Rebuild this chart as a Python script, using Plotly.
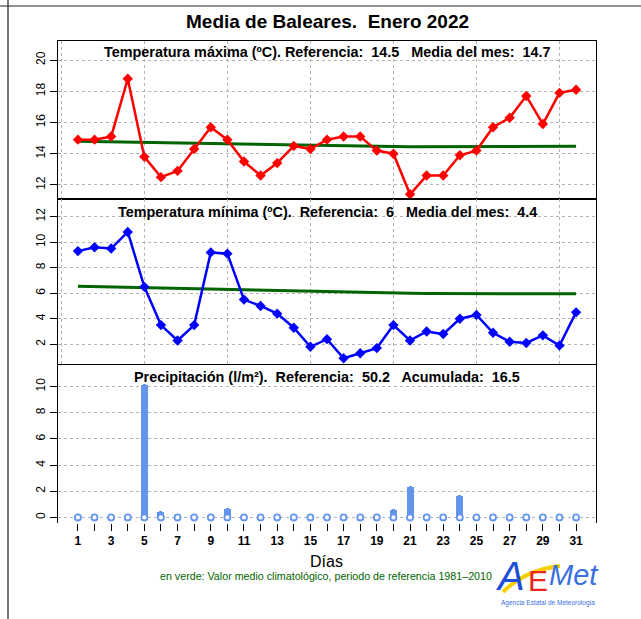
import plotly.graph_objects as go

days = list(range(1, 32))
tmax = [14.9, 14.9, 15.1, 18.8, 13.8, 12.5, 12.9, 14.3, 15.7, 14.9,
        13.5, 12.6, 13.4, 14.5, 14.3, 14.9, 15.1, 15.1, 14.2, 14.0,
        11.4, 12.6, 12.6, 13.9, 14.2, 15.7, 16.3, 17.7, 15.9, 17.9, 18.1]
tmax_clim = [14.80, 14.78, 14.76, 14.74, 14.72, 14.70, 14.68, 14.66, 14.64, 14.62,
             14.60, 14.58, 14.56, 14.54, 14.52, 14.50, 14.49, 14.48, 14.47, 14.46,
             14.45, 14.45, 14.45, 14.45, 14.45, 14.46, 14.46, 14.47, 14.47, 14.48, 14.48]
tmin = [9.3, 9.6, 9.5, 10.8, 6.5, 3.5, 2.3, 3.5, 9.2, 9.1,
        5.5, 5.0, 4.4, 3.3, 1.8, 2.4, 0.9, 1.3, 1.7, 3.5,
        2.3, 3.0, 2.8, 4.0, 4.3, 2.9, 2.2, 2.1, 2.7, 1.9, 4.5]
tmin_clim = [6.55, 6.52, 6.49, 6.46, 6.43, 6.40, 6.37, 6.34, 6.31, 6.28,
             6.25, 6.22, 6.19, 6.16, 6.13, 6.10, 6.07, 6.04, 6.02, 6.00,
             5.99, 5.98, 5.97, 5.96, 5.96, 5.95, 5.95, 5.95, 5.95, 5.95, 5.95]
prec = [0.1, 0.0, 0.0, 0.0, 10.2, 0.5, 0.0, 0.0, 0.0, 0.7,
        0.0, 0.0, 0.0, 0.0, 0.0, 0.0, 0.0, 0.0, 0.0, 0.6,
        2.4, 0.0, 0.1, 1.7, 0.0, 0.0, 0.1, 0.1, 0.0, 0.0, 0.0]
prec_zero = [0.0] * 31

title = "Media de Baleares.\u00a0 Enero 2022"
sub_max = "Temperatura máxima (ºC). Referencia:\u00a0 14.5\u00a0\u00a0 Media del mes:\u00a0 14.7"
sub_min = "Temperatura mínima (ºC).\u00a0 Referencia:\u00a0 6\u00a0\u00a0 Media del mes:\u00a0 4.4"
sub_pre = "Precipitación (l/m²).\u00a0 Referencia:\u00a0 50.2\u00a0\u00a0 Acumulada:\u00a0 16.5"
xlabel = "Días"
footer = "en verde: Valor medio climatológico, periodo de referencia 1981\u20132010"

xgrid = [0, 5, 10, 15, 20, 25, 30]
xticktext = [str(d) if d % 2 == 1 else "" for d in days]

W, H = 641, 619
L, R, T, B = 58, 596, 41, 523


def px(x):
    return (x - L) / (R - L)


def py(y):
    return (B - y) / (B - T)


FONT = "Liberation Sans, Arial, Helvetica, sans-serif"
RED = "#FF0000"
BLUE = "#0000FF"
GREEN = "#006400"
PBLUE = "#6495ED"
GRID = "#B4B4B4"

fig = go.Figure()

# top panel
fig.add_trace(go.Scatter(x=days, y=tmax_clim, mode="lines", line=dict(color=GREEN, width=3),
                         xaxis="x", yaxis="y"))
fig.add_trace(go.Scatter(x=days, y=tmax, mode="lines+markers", line=dict(color=RED, width=2.5),
                         marker=dict(symbol="diamond", size=8, color=RED),
                         xaxis="x", yaxis="y"))
# middle panel
fig.add_trace(go.Scatter(x=days, y=tmin_clim, mode="lines", line=dict(color=GREEN, width=3),
                         xaxis="x2", yaxis="y2"))
fig.add_trace(go.Scatter(x=days, y=tmin, mode="lines+markers", line=dict(color=BLUE, width=2.5),
                         marker=dict(symbol="diamond", size=8, color=BLUE),
                         xaxis="x2", yaxis="y2"))
# bottom panel
fig.add_trace(go.Bar(x=days, y=prec, width=0.42, marker=dict(color=PBLUE, line=dict(width=0), cornerradius=4),
                     xaxis="x4", yaxis="y3"))
fig.add_trace(go.Scatter(x=days, y=prec_zero, mode="markers",
                         marker=dict(symbol="circle", size=6, color="white",
                                     line=dict(color=PBLUE, width=1.8)),
                         xaxis="x4", yaxis="y3"))

xr = [-0.2, 32.2]
d_top = [py(199.3), 1.0]
d_mid = [py(364.3), py(199.3)]
d_bot = [0.0, py(364.3)]

common_x = dict(range=xr, showline=True, mirror=True, linecolor="black", linewidth=1,
                tickmode="array", tickvals=xgrid, showticklabels=False, ticks="",
                showgrid=True, gridcolor=GRID, griddash="dot", gridwidth=1, zeroline=False,
                fixedrange=True)
common_y = dict(showline=True, mirror=True, linecolor="black", linewidth=1,
                ticks="outside", ticklen=7, tickcolor="black", tickangle=-90,
                tickfont=dict(family=FONT, size=12, color="black"),
                showgrid=True, gridcolor=GRID, griddash="dot", gridwidth=1, zeroline=False)

fig.update_layout(
    width=W, height=H,
    margin=dict(l=L, r=W - R, t=T, b=H - B),
    paper_bgcolor="white", plot_bgcolor="white",
    showlegend=False,
    font=dict(family=FONT, color="black"),
    bargap=0,
    xaxis=dict(anchor="y", domain=[0, 1], **common_x),
    xaxis2=dict(anchor="y2", domain=[0, 1], **common_x),
    xaxis3=dict(anchor="y3", domain=[0, 1], **common_x),
    xaxis4=dict(anchor="y3", overlaying="x3", range=xr, tickmode="array", tickvals=days,
                ticktext=xticktext, ticks="outside", ticklen=7, tickcolor="black",
                tickfont=dict(family=FONT, size=12, color="black", weight="bold"),
                showgrid=False, zeroline=False, showline=False),
    yaxis=dict(domain=d_top, anchor="x", range=[11.08, 21.22], tickvals=[12, 14, 16, 18, 20], **common_y),
    yaxis2=dict(domain=d_mid, anchor="x2", range=[0.43, 13.36], tickvals=[2, 4, 6, 8, 10, 12], **common_y),
    yaxis3=dict(domain=d_bot, anchor="x3", range=[-0.43, 11.71], tickvals=[0, 2, 4, 6, 8, 10], **common_y),
)

ann = []
ann.append(dict(text=title, x=px(327), y=py(22), xref="paper", yref="paper", showarrow=False,
                font=dict(size=19, weight="bold", color="black", family=FONT), xanchor="center", yanchor="middle"))
for txt, yy in [(sub_max, 52), (sub_min, 212.5), (sub_pre, 377)]:
    ann.append(dict(text=txt, x=0.5, y=py(yy), xref="paper", yref="paper", showarrow=False,
                    font=dict(size=14.4, weight="bold", color="black", family=FONT),
                    xanchor="center", yanchor="middle"))
ann.append(dict(text=xlabel, x=px(326), y=py(561), xref="paper", yref="paper", showarrow=False,
                font=dict(size=16, color="black", family=FONT), xanchor="center", yanchor="middle"))
ann.append(dict(text=footer, x=px(326), y=py(575.5), xref="paper", yref="paper", showarrow=False,
                font=dict(size=10.7, color=GREEN, family=FONT), xanchor="center", yanchor="middle"))
# logo
ann.append(dict(text="<i>A</i>", x=px(510), y=py(576), xref="paper", yref="paper", showarrow=False,
                font=dict(size=40, color="#1F4FD8", family=FONT), xanchor="center", yanchor="middle"))
ann.append(dict(text="E", x=px(538), y=py(580), xref="paper", yref="paper", showarrow=False,
                font=dict(size=30, color="#E8261C", family=FONT), xanchor="center", yanchor="middle"))
ann.append(dict(text="<i>Met</i>", x=px(574), y=py(575), xref="paper", yref="paper", showarrow=False,
                font=dict(size=29, color="#3A6FE0", family=FONT), xanchor="center", yanchor="middle"))
ann.append(dict(text="Agencia Estatal de Meteorología", x=px(548), y=py(603), xref="paper", yref="paper",
                showarrow=False, font=dict(size=6.5, color="#3A6FE0", family=FONT),
                xanchor="center", yanchor="middle"))
fig.update_layout(annotations=ann)

shapes = [
    dict(type="line", xref="paper", yref="paper", x0=px(8), x1=px(8), y0=py(0), y1=py(619),
         line=dict(color="#222222", width=1.2)),
    dict(type="line", xref="paper", yref="paper", x0=px(0), x1=px(641), y0=py(6), y1=py(6),
         line=dict(color="#222222", width=1.2)),
    dict(type="path", xref="paper", yref="paper",
         path="M {} {} Q {} {} {} {}".format(px(503), py(592), px(525), py(570), px(560), py(566)),
         line=dict(color="#F5D000", width=4)),
]
fig.update_layout(shapes=shapes)

fig.write_html("out.html", config={"displayModeBar": False},
               post_script="document.body.style.margin='0';document.body.style.overflow='hidden';")
